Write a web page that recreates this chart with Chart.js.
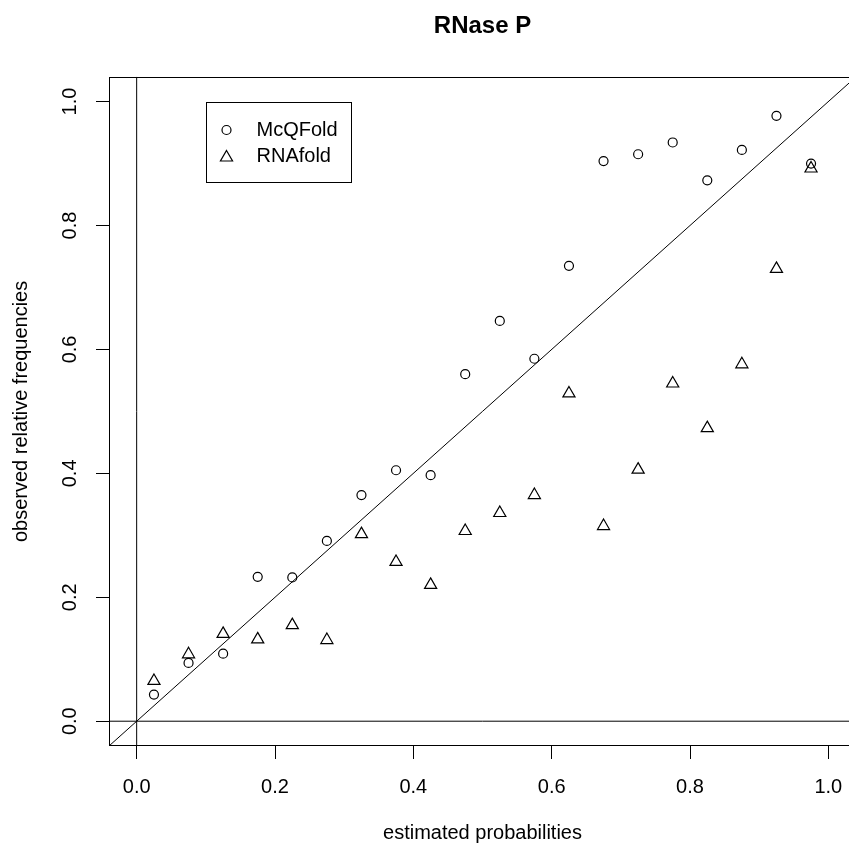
<!DOCTYPE html>
<html>
<head>
<meta charset="utf-8">
<title>RNase P</title>
<script src="https://cdn.jsdelivr.net/npm/chart.js@4"></script>
<style>
  html, body { margin: 0; padding: 0; background: #fff; overflow: hidden; }
  #wrap { width: 849px; height: 848px; overflow: hidden; }
  #inner { width: 856px; height: 848px; }
  canvas { display: block; }
</style>
</head>
<body>
<div id="wrap"><div id="inner"><canvas id="calib" width="856" height="848"></canvas></div></div>
<script>
// reliability of predicted base pairs, binned by estimated probability
const probBins = [0.025, 0.075, 0.125, 0.175, 0.225, 0.275, 0.325, 0.375, 0.425, 0.475,
                  0.525, 0.575, 0.625, 0.675, 0.725, 0.775, 0.825, 0.875, 0.925, 0.975];
const mcqfold = [0.043, 0.094, 0.109, 0.233, 0.232, 0.291, 0.365, 0.405, 0.397, 0.560,
                 0.646, 0.585, 0.735, 0.904, 0.915, 0.934, 0.873, 0.922, 0.977, 0.900];
const rnafold = [0.065, 0.108, 0.141, 0.132, 0.155, 0.131, 0.302, 0.257, 0.220, 0.307,
                 0.336, 0.365, 0.529, 0.315, 0.406, 0.545, 0.473, 0.576, 0.730, 0.892];
const seriesNames = ["McQFold", "RNAfold"];
const axisTicks = [0, 0.2, 0.4, 0.6, 0.8, 1.0];
const axisLimits = [-0.04, 1.04];
const legendAnchor = [0.1, 1.0];

const black = "#000";
const fontFamily = "'Liberation Sans', Arial, Helvetica, sans-serif";
Chart.defaults.font.family = fontFamily;
Chart.defaults.font.size = 20;
Chart.defaults.color = black;

const toPoints = (xs, ys) => xs.map((x, i) => ({ x: x, y: ys[i] }));

// straight reference lines (y = x, y = 0, x = 0)
const lo = axisLimits[0], hi = axisLimits[1];
const refLine = (pts) => ({
  data: pts, showLine: true, pointRadius: 0, borderColor: black,
  borderWidth: 1, fill: false, isRef: true
});

function drawMarker(ctx, style, x, y, r) {
  ctx.beginPath();
  if (style === "circle") {
    ctx.arc(x, y, r, 0, Math.PI * 2);
  } else {
    for (let k = 0; k < 3; k++) {
      const a = -Math.PI / 2 + k * 2 * Math.PI / 3;
      const px = x + r * Math.cos(a), py = y + r * Math.sin(a);
      if (k === 0) ctx.moveTo(px, py); else ctx.lineTo(px, py);
    }
    ctx.closePath();
  }
  ctx.stroke();
}

// box around the plot plus the legend
const frameBox = {
  id: "frameBox",
  afterDraw(chart) {
    const { ctx, chartArea: a, scales } = chart;
    ctx.save();
    ctx.strokeStyle = black;
    ctx.lineWidth = 1;
    const l = Math.round(a.left) + 0.5, t = Math.round(a.top) + 0.5;
    const r = Math.round(a.right) - 0.5, b = Math.round(a.bottom) - 0.5;
    ctx.strokeRect(l, t, r - l, b - t);

    const lx = Math.round(scales.x.getPixelForValue(legendAnchor[0])) + 0.5;
    const ly = Math.round(scales.y.getPixelForValue(legendAnchor[1])) + 0.5;
    ctx.strokeRect(lx, ly, 145, 80);
    ctx.font = "20px " + fontFamily;
    ctx.fillStyle = black;
    ctx.textBaseline = "middle";
    ctx.textAlign = "left";
    ctx.lineWidth = 1.2;
    chart.data.datasets.filter(d => !d.isRef).forEach((d, i) => {
      const rowY = ly + 27.5 + i * 26.5;
      drawMarker(ctx, d.pointStyle, lx + 20, rowY + (d.pointStyle === "triangle" ? 1 : 0), d.pointRadius);
      ctx.fillText(d.label, lx + 50, rowY);
    });
    ctx.restore();
  }
};

const sharedScale = (titleText, isY) => ({
  type: "linear",
  min: lo,
  max: hi,
  afterBuildTicks: (s) => { s.ticks = axisTicks.map(v => ({ value: v })); },
  grid: { drawOnChartArea: false, drawTicks: true, tickLength: 13, tickColor: black, tickWidth: 1 },
  border: { display: false },
  ticks: isY
    ? { minRotation: 90, maxRotation: 90, crossAlign: "center", padding: 12,
        callback: (v) => v.toFixed(1) }
    : { padding: 16, maxRotation: 0, callback: (v) => v.toFixed(1) },
  title: isY
    ? { display: true, text: titleText, padding: { top: 9, bottom: 0 } }
    : { display: true, text: titleText, padding: { top: 0, bottom: 3 } },
  afterFit: (s) => {
    if (isY) s.width = 109; else s.height = 102;
    s.paddingLeft = 0; s.paddingRight = 0; s.paddingTop = 0; s.paddingBottom = 0;
  }
});

new Chart("calib", {
  type: "scatter",
  data: {
    datasets: [
      {
        label: seriesNames[0],
        data: toPoints(probBins, mcqfold),
        pointStyle: "circle",
        pointRadius: 4.5,
        backgroundColor: "rgba(0,0,0,0)",
        borderColor: black,
        borderWidth: 1.2
      },
      {
        label: seriesNames[1],
        data: toPoints(probBins, rnafold),
        pointStyle: "triangle",
        pointRadius: 7,
        backgroundColor: "rgba(0,0,0,0)",
        borderColor: black,
        borderWidth: 1.2
      },
      refLine([{ x: lo, y: lo }, { x: hi, y: hi }]),
      refLine([{ x: lo, y: 0 }, { x: hi, y: 0 }]),
      refLine([{ x: 0, y: lo }, { x: 0, y: hi }])
    ]
  },
  options: {
    responsive: false,
    animation: false,
    // plot region runs right up to the canvas edge
    layout: { padding: 0, autoPadding: false },
    scales: {
      x: sharedScale("estimated probabilities", false),
      y: sharedScale("observed relative frequencies", true)
    },
    plugins: {
      legend: { display: false },
      tooltip: { enabled: false },
      title: {
        display: true,
        text: "RNase P",
        fullSize: false,
        color: black,
        font: { size: 24, weight: "bold" },
        padding: { top: 12, bottom: 36 }
      }
    }
  },
  plugins: [frameBox]
});
</script>
</body>
</html>
